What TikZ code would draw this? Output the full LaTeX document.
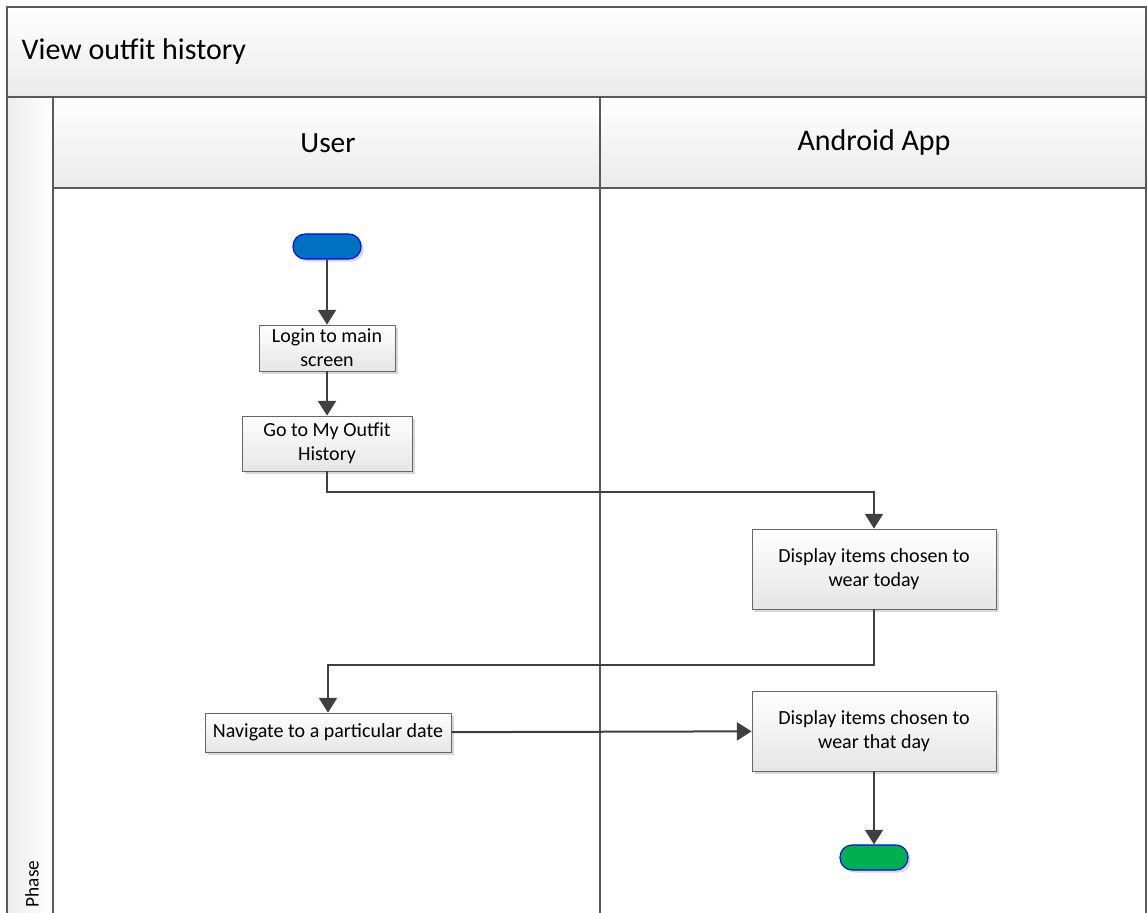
\documentclass[tikz,border=0pt]{standalone}
\usepackage{fontspec}
\setmainfont{Carlito}
\usetikzlibrary{arrows.meta,shadows,positioning}
\definecolor{startblue}{RGB}{0,112,192}
\definecolor{endgreen}{RGB}{0,176,80}

\begin{document}
\begin{tikzpicture}
        [x=0.75pt, y=-0.75pt,
        lane/.style={draw=black!65, line width=1.1pt},
        box/.style={draw=black!60, line width=0.6pt, top color=white, bottom color=black!10,
          drop shadow={shadow xshift=2.5pt, shadow yshift=-2.5pt, fill=black!30, opacity=0.5},
          align=center, inner sep=0pt, font=\fontsize{15}{18}\selectfont},
        term/.style={draw=blue, line width=0.8pt, rounded corners=9pt,
          minimum width=51pt, minimum height=18.75pt, inner sep=0pt,
          drop shadow={shadow xshift=2pt, shadow yshift=-2pt, fill=black!30, opacity=0.5}},
        flow/.style={draw=black!75, line width=1.5pt, -{Triangle[length=11pt, width=13.5pt]}}]

        \useasboundingbox (0,0) rectangle (1147,913);

        % swimlane frame
        \shade[top color=white, bottom color=black!8] (7,7) rectangle (1146,97);
        \shade[top color=white, bottom color=black!8] (53,97) rectangle (1146,188);
        \shade[left color=black!7, right color=white] (7,97) rectangle (53,913);
        \draw[lane] (7,913) -- (7,7) -- (1146,7) -- (1146,913);
        \draw[lane] (7,97) -- (1146,97);
        \draw[lane] (53,188) -- (1146,188);
        \draw[lane] (53,97) -- (53,913);
        \draw[lane] (600,97) -- (600,913);

        % labels
        \node[anchor=west, font=\fontsize{22.5}{27}\selectfont] (title) at (17,52) {View outfit history};
        \node[font=\fontsize{22}{26}\selectfont] (user) at (328,143) {User};
        \node[font=\fontsize{22.5}{27}\selectfont] (app) at (874,143) {Android App};
        \node[rotate=90, anchor=west, font=\fontsize{14.5}{17}\selectfont] (phase) at (32,912) {Phase};

        % activities
        \node[term, fill=startblue] (start) at (327,246.5) {};
        \node[box, minimum width=102pt, minimum height=34.5pt] (login) at (327,348) {Login to main\\screen};
        \node[box, minimum width=127.5pt, minimum height=41.25pt] (goto) at (327,443.5) {Go to My Outfit\\History};
        \node[box, minimum width=183pt, minimum height=60pt] (today) at (874,569) {Display items chosen to\\wear today};
        \node[box, minimum width=184.5pt, minimum height=29.25pt] (navigate) at (328,732.5) {Navigate to a particular date};
        \node[box, minimum width=183pt, minimum height=60pt] (thatday) at (874,731) {Display items chosen to\\wear that day};
        \node[term, fill=endgreen] (finish) at (874,857.5) {};

        % flow
        \draw[flow] (start) -- (login);
        \draw[flow] (login) -- (goto);
        \draw[flow] (goto.south) -- ++(0,21) -| (today.north);
        \draw[flow] (today.south) -- ++(0,56) -| (navigate.north);
        \draw[flow] (navigate) -- (thatday);
        \draw[flow] (thatday) -- (finish);

        \end{tikzpicture}
\end{document}
